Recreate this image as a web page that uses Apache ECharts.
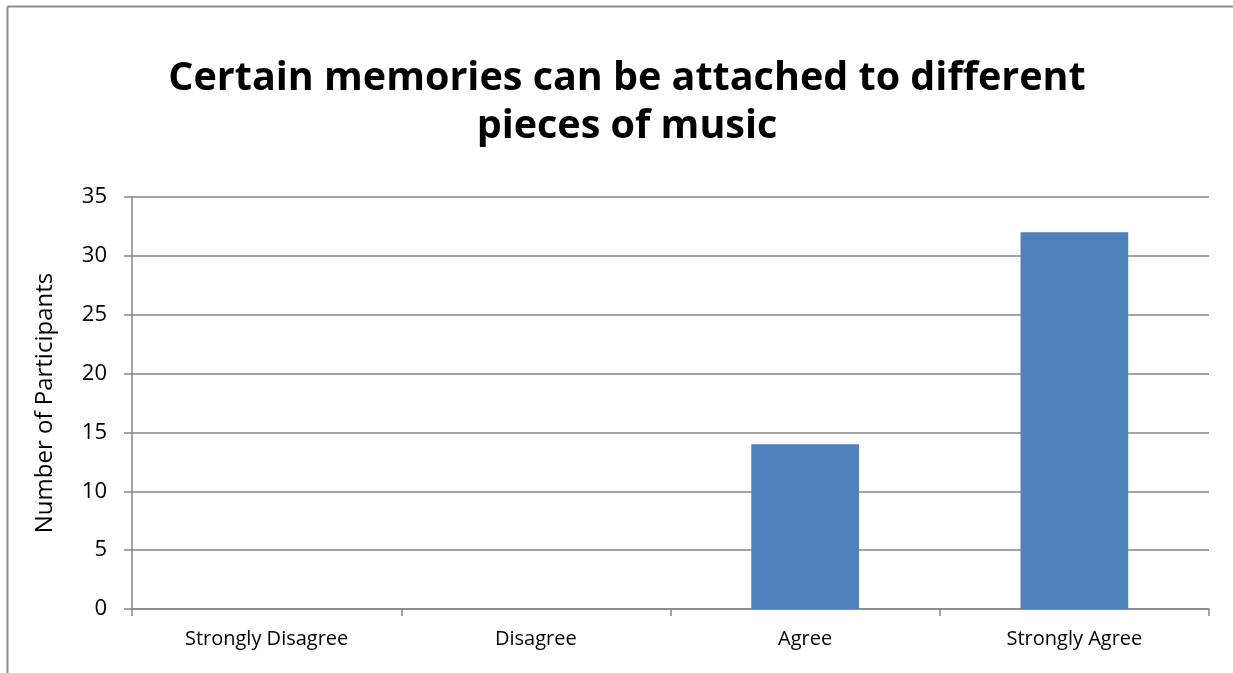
<!DOCTYPE html>
<html>
<head>
<meta charset="utf-8">
<script src="https://cdn.jsdelivr.net/npm/echarts@6/dist/echarts.min.js"></script>
<style>
html,body{margin:0;padding:0;background:#fff;}
#chart{width:1233px;height:673px;}
</style>
</head>
<body>
<div id="chart"></div>
<script>
const categories = ['Strongly Disagree', 'Disagree', 'Agree', 'Strongly Agree'];
const participants = [0, 0, 14, 32];
const titleText = 'Certain memories can be attached to different\npieces of music';
const yAxisName = 'Number of Participants';

const chart = echarts.init(document.getElementById('chart'));
const axisColor = '#868686';
chart.setOption({
  animation: false,
  backgroundColor: '#fff',
  graphic: [
    { type: 'line', shape: { x1: 7.5, y1: 6.5, x2: 1240, y2: 6.5 }, style: { stroke: '#8c8c8c', lineWidth: 2 }, silent: true },
    { type: 'line', shape: { x1: 7.5, y1: 6.5, x2: 7.5, y2: 680 }, style: { stroke: '#8c8c8c', lineWidth: 2 }, silent: true }
  ],
  title: {
    text: titleText,
    left: 622,
    textAlign: 'center',
    top: 50,
    textStyle: {
      fontFamily: 'Open Sans',
      fontWeight: 'bold',
      fontSize: 39.5,
      lineHeight: 48,
      color: '#000'
    }
  },
  grid: { left: 132, right: 24, top: 197, bottom: 64, containLabel: false },
  xAxis: {
    type: 'category',
    data: categories,
    axisLine: { lineStyle: { color: axisColor, width: 1.5 } },
    axisTick: { show: true, length: 7, lineStyle: { color: axisColor, width: 1.5 } },
    axisLabel: { color: '#000', fontSize: 20, fontFamily: 'Open Sans', margin: 20 }
  },
  yAxis: {
    type: 'value',
    min: 0, max: 35, interval: 5,
    name: yAxisName,
    nameLocation: 'middle',
    nameRotate: 90,
    nameGap: 75,
    nameTextStyle: { color: '#000', fontSize: 24, fontFamily: 'Open Sans' },
    axisLine: { show: true, lineStyle: { color: axisColor, width: 1.5 } },
    axisTick: { show: true, length: 8, lineStyle: { color: axisColor, width: 1.5 } },
    axisLabel: { color: '#000', fontSize: 22, fontFamily: 'Open Sans', margin: 25 },
    splitLine: { lineStyle: { color: axisColor, width: 1.5 } }
  },
  series: [{
    type: 'bar',
    data: participants,
    barWidth: '40%',
    itemStyle: { color: '#4f81bd' }
  }]
});
</script>
</body>
</html>
